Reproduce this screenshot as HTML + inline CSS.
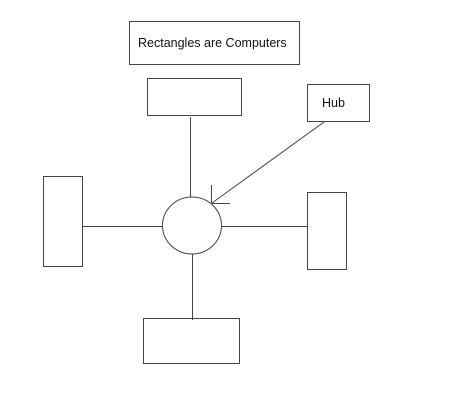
<!DOCTYPE html>
<html><head><style>
html,body{margin:0;padding:0;background:#fff;}
svg{display:block;}
</style></head><body>
<svg width="459" height="412" viewBox="0 0 459 412" xmlns="http://www.w3.org/2000/svg">
<g fill="none" stroke="#444" stroke-width="1">
<rect x="129.5" y="21.5" width="170" height="43"/>
<rect x="147.5" y="78.5" width="94" height="37"/>
<rect x="307.5" y="84.5" width="62" height="37"/>
<rect x="43.5" y="176.5" width="39" height="90"/>
<rect x="307.5" y="192.5" width="39" height="77"/>
<rect x="143.5" y="318.5" width="96" height="45"/>
<ellipse cx="192" cy="225.5" rx="29.5" ry="28.5"/>
<line x1="190.5" y1="117" x2="190.5" y2="197"/>
<line x1="192.5" y1="254" x2="192.5" y2="320"/>
<line x1="82" y1="226.5" x2="162" y2="226.5"/>
<line x1="222" y1="226.5" x2="307" y2="226.5"/>
<line x1="324" y1="122" x2="212" y2="203"/>
<line x1="211.5" y1="185" x2="211.5" y2="203"/>
<line x1="212" y1="203.5" x2="230" y2="203.5"/>
</g>
<g font-family="Liberation Sans, sans-serif" font-size="12.5" fill="#111">
<text x="138" y="47">Rectangles are Computers</text>
<text x="322" y="107">Hub</text>
</g>
</svg>
</body></html>
